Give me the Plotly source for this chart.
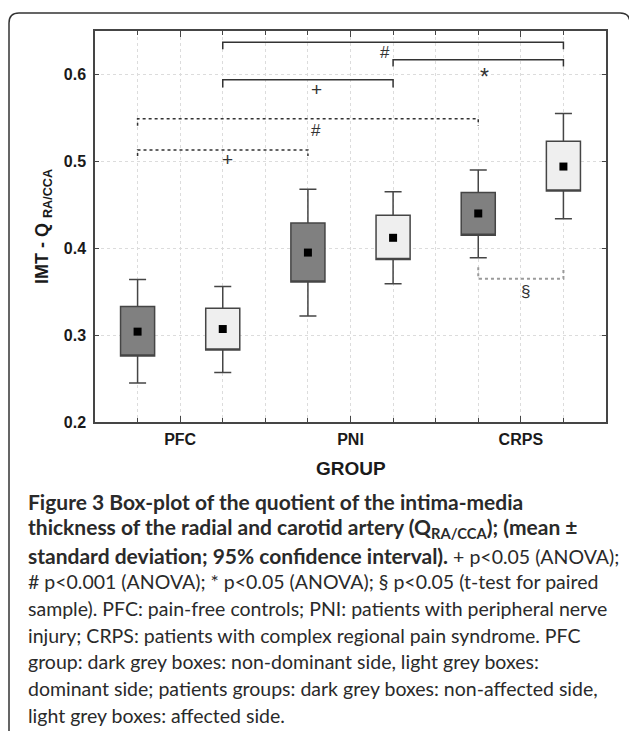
import plotly.graph_objects as go

# ---------------- data ----------------
groups = ["PFC", "PNI", "CRPS"]

# dark grey boxes (non-dominant / non-affected side)
dark_mean = [0.304, 0.395, 0.440]
dark_se_low = [0.276, 0.361, 0.415]
dark_se_high = [0.333, 0.429, 0.464]
dark_ci_low = [0.245, 0.322, 0.389]
dark_ci_high = [0.364, 0.468, 0.490]

# light grey boxes (dominant / affected side)
light_mean = [0.307, 0.412, 0.494]
light_se_low = [0.283, 0.387, 0.466]
light_se_high = [0.331, 0.438, 0.523]
light_ci_low = [0.257, 0.359, 0.434]
light_ci_high = [0.356, 0.465, 0.555]

y_ticks = [0.2, 0.3, 0.4, 0.5, 0.6]

# significance brackets
sig_labels = ["#", "*", "+", "#", "+", "§"]
sig_from = [3, 7, 3, 1, 1, 9]
sig_to = [11, 11, 7, 9, 5, 11]

B = '<span style="font-size:21px"><b>'
E = '</b></span>'
caption_lines = [
    B + "Figure 3 Box-plot of the quotient of the intima-media" + E,
    B + "thickness of the radial and carotid artery (Q<sub>RA/CCA</sub>); (mean ±" + E,
    B + "standard deviation; 95% confidence interval)." + E + " + p&lt;0.05 (ANOVA);",
    "# p&lt;0.001 (ANOVA); * p&lt;0.05 (ANOVA); § p&lt;0.05 (t-test for paired",
    "sample). PFC: pain-free controls; PNI: patients with peripheral nerve",
    "injury; CRPS: patients with complex regional pain syndrome. PFC",
    "group: dark grey boxes: non-dominant side, light grey boxes:",
    "dominant side; patients groups: dark grey boxes: non-affected side,",
    "light grey boxes: affected side.",
]

# ---------------- geometry helpers ----------------
W, H = 629, 731
ML, MR, MT, MB = 95, 23, 31, 309
PW = W - ML - MR
PH = H - MT - MB


def px(x):
    return (x - ML) / PW


def py(y):
    return (H - MB - y) / PH


centers = [2 + 4 * i for i in range(len(groups))]
x_dark = [c - 1 for c in centers]
x_light = [c + 1 for c in centers]

edge = "#454545"
fig = go.Figure()

for xs, lo, hi, clo, chi, fill in [
    (x_dark, dark_se_low, dark_se_high, dark_ci_low, dark_ci_high, "#808080"),
    (x_light, light_se_low, light_se_high, light_ci_low, light_ci_high, "#efefef"),
]:
    fig.add_trace(go.Box(
        x=xs, q1=lo, median=lo, q3=hi, lowerfence=clo, upperfence=chi,
        width=0.8, whiskerwidth=0.5, fillcolor=fill,
        line=dict(color=edge, width=1.5), boxpoints=False,
        hoverinfo="skip",
    ))

fig.add_trace(go.Scatter(
    x=x_dark + x_light, y=dark_mean + light_mean, mode="markers",
    marker=dict(symbol="square", size=8, color="black"),
    hoverinfo="skip",
))

# brackets
br_y = [0.637, 0.617, 0.594, 0.549, 0.513, 0.365]
br_tip = [0.629, 0.609, 0.585, 0.541, 0.506, 0.378]
br_dash = ["solid", "solid", "solid", "dot", "dot", "dot"]
br_color = ["#333333"] * 5 + ["#9a9a9a"]
br_width = [1.5, 1.5, 1.5, 1.5, 1.5, 2]
lab_x = [6.8, 9.15, 5.2, 5.2, 3.1, 10.1]
lab_y = [0.6255, 0.5965, 0.583, 0.5356, 0.502, 0.350]
lab_size = [17, 23, 19, 17, 19, 17]

for i in range(len(sig_labels)):
    a, b = sig_from[i], sig_to[i]
    fig.add_shape(type="path", xref="x", yref="y",
                  path=f"M {a},{br_tip[i]} L {a},{br_y[i]} L {b},{br_y[i]} L {b},{br_tip[i]}",
                  line=dict(color=br_color[i], width=br_width[i], dash=br_dash[i]))
    fig.add_annotation(x=lab_x[i], y=lab_y[i], xref="x", yref="y", text=sig_labels[i],
                       showarrow=False, font=dict(family="Liberation Sans", size=lab_size[i], color="#333333"))

# outer rounded frame
r = 10
x0f, y0f, x1f = 9, 13, 630
fig.add_shape(type="path", xref="paper", yref="paper",
              path=(f"M {px(x0f)},{py(740)} L {px(x0f)},{py(y0f + r)} "
                    f"Q {px(x0f)},{py(y0f)} {px(x0f + r)},{py(y0f)} "
                    f"L {px(x1f - r)},{py(y0f)} Q {px(x1f)},{py(y0f)} {px(x1f)},{py(y0f + r)} "
                    f"L {px(x1f)},{py(740)}"),
              line=dict(color="#333333", width=1.5), layer="above")

# axis titles
fig.add_annotation(x=px(43.5), y=0.5, xref="paper", yref="paper",
                   text="<b>IMT - Q <sub>RA/CCA</sub></b>", textangle=-90, showarrow=False,
                   xanchor="center", yanchor="middle",
                   font=dict(family="Liberation Sans", size=18, color="#1a1a1a"))
fig.add_annotation(x=0.5, y=py(468), xref="paper", yref="paper",
                   text="<b>GROUP</b>", showarrow=False, xanchor="center", yanchor="middle",
                   font=dict(family="Liberation Sans", size=19, color="#1a1a1a"))

# caption
cap_y = [501.7, 528.3, 555.5, 581.7, 608.3, 635, 661.7, 688.3, 715]
for yy, line in zip(cap_y, caption_lines):
    fig.add_annotation(x=px(26), y=py(yy), xref="paper", yref="paper", text=line,
                       showarrow=False, xanchor="left", yanchor="middle", align="left",
                       font=dict(family="Lato", size=19.5, color="#2a2a2a"))

fig.update_layout(
    width=W, height=H, margin=dict(l=ML, r=MR, t=MT, b=MB),
    paper_bgcolor="white", plot_bgcolor="white", showlegend=False,
    font=dict(family="Liberation Sans", color="#1a1a1a"),
)
fig.update_xaxes(
    range=[0, 12], tickmode="array", tickvals=centers, ticktext=groups,
    tickfont=dict(size=16, weight="bold", color="#1a1a1a"),
    showline=True, linecolor=edge, linewidth=1.5, mirror="ticks",
    ticks="inside", ticklen=6, tickcolor=edge, tickwidth=1,
    showgrid=True, gridcolor="#dcdcdc", griddash="dot", gridwidth=1,
    minor=dict(dtick=1, tick0=0, ticks="inside", ticklen=4, tickcolor=edge,
               showgrid=True, gridcolor="#dcdcdc", griddash="dot", gridwidth=1),
    zeroline=False, ticklabelstandoff=2,
)
fig.update_yaxes(
    range=[0.2, 0.65], tickmode="array", tickvals=y_ticks,
    ticktext=[f"{v:.1f}" for v in y_ticks],
    tickfont=dict(size=16, weight="bold", color="#1a1a1a"),
    showline=True, linecolor=edge, linewidth=1.5, mirror="ticks",
    ticks="inside", ticklen=4, tickcolor=edge, tickwidth=1,
    showgrid=True, gridcolor="#dcdcdc", griddash="dot", gridwidth=1,
    zeroline=False, ticklabelstandoff=4,
)

fig.write_html("out.html", config={"displayModeBar": False},
               post_script="document.body.style.margin='0';")
